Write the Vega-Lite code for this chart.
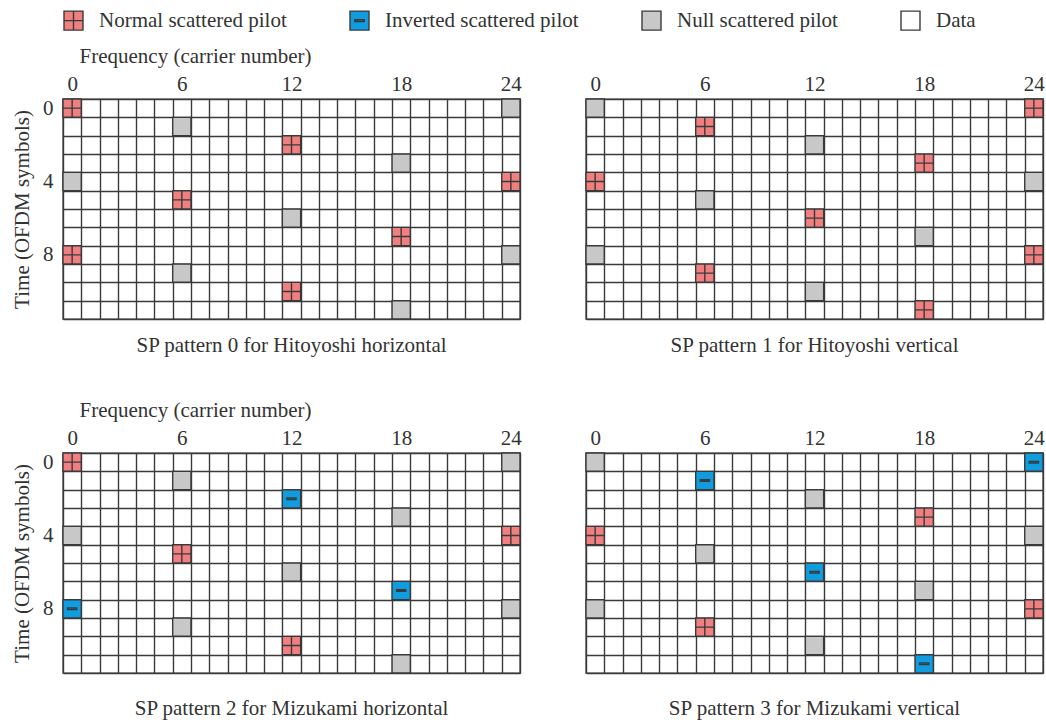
{
  "$schema": "https://vega.github.io/schema/vega-lite/v6.json",
  "background": "white",
  "padding": {"left": 10, "top": 10, "right": 2, "bottom": 0},
  "datasets": {
    "p0": [
      {"c": 0, "r": 0, "t": "Normal scattered pilot"},
      {"c": 12, "r": 2, "t": "Normal scattered pilot"},
      {"c": 24, "r": 4, "t": "Normal scattered pilot"},
      {"c": 6, "r": 5, "t": "Normal scattered pilot"},
      {"c": 18, "r": 7, "t": "Normal scattered pilot"},
      {"c": 0, "r": 8, "t": "Normal scattered pilot"},
      {"c": 12, "r": 10, "t": "Normal scattered pilot"},
      {"c": 24, "r": 0, "t": "Null scattered pilot"},
      {"c": 6, "r": 1, "t": "Null scattered pilot"},
      {"c": 18, "r": 3, "t": "Null scattered pilot"},
      {"c": 0, "r": 4, "t": "Null scattered pilot"},
      {"c": 12, "r": 6, "t": "Null scattered pilot"},
      {"c": 24, "r": 8, "t": "Null scattered pilot"},
      {"c": 6, "r": 9, "t": "Null scattered pilot"},
      {"c": 18, "r": 11, "t": "Null scattered pilot"}
    ],
    "p1": [
      {"c": 24, "r": 0, "t": "Normal scattered pilot"},
      {"c": 6, "r": 1, "t": "Normal scattered pilot"},
      {"c": 18, "r": 3, "t": "Normal scattered pilot"},
      {"c": 0, "r": 4, "t": "Normal scattered pilot"},
      {"c": 12, "r": 6, "t": "Normal scattered pilot"},
      {"c": 24, "r": 8, "t": "Normal scattered pilot"},
      {"c": 6, "r": 9, "t": "Normal scattered pilot"},
      {"c": 18, "r": 11, "t": "Normal scattered pilot"},
      {"c": 0, "r": 0, "t": "Null scattered pilot"},
      {"c": 12, "r": 2, "t": "Null scattered pilot"},
      {"c": 24, "r": 4, "t": "Null scattered pilot"},
      {"c": 6, "r": 5, "t": "Null scattered pilot"},
      {"c": 18, "r": 7, "t": "Null scattered pilot"},
      {"c": 0, "r": 8, "t": "Null scattered pilot"},
      {"c": 12, "r": 10, "t": "Null scattered pilot"}
    ],
    "p2": [
      {"c": 0, "r": 0, "t": "Normal scattered pilot"},
      {"c": 24, "r": 4, "t": "Normal scattered pilot"},
      {"c": 6, "r": 5, "t": "Normal scattered pilot"},
      {"c": 12, "r": 10, "t": "Normal scattered pilot"},
      {"c": 12, "r": 2, "t": "Inverted scattered pilot"},
      {"c": 18, "r": 7, "t": "Inverted scattered pilot"},
      {"c": 0, "r": 8, "t": "Inverted scattered pilot"},
      {"c": 24, "r": 0, "t": "Null scattered pilot"},
      {"c": 6, "r": 1, "t": "Null scattered pilot"},
      {"c": 18, "r": 3, "t": "Null scattered pilot"},
      {"c": 0, "r": 4, "t": "Null scattered pilot"},
      {"c": 12, "r": 6, "t": "Null scattered pilot"},
      {"c": 24, "r": 8, "t": "Null scattered pilot"},
      {"c": 6, "r": 9, "t": "Null scattered pilot"},
      {"c": 18, "r": 11, "t": "Null scattered pilot"}
    ],
    "p3": [
      {"c": 18, "r": 3, "t": "Normal scattered pilot"},
      {"c": 0, "r": 4, "t": "Normal scattered pilot"},
      {"c": 24, "r": 8, "t": "Normal scattered pilot"},
      {"c": 6, "r": 9, "t": "Normal scattered pilot"},
      {"c": 24, "r": 0, "t": "Inverted scattered pilot"},
      {"c": 6, "r": 1, "t": "Inverted scattered pilot"},
      {"c": 12, "r": 6, "t": "Inverted scattered pilot"},
      {"c": 18, "r": 11, "t": "Inverted scattered pilot"},
      {"c": 0, "r": 0, "t": "Null scattered pilot"},
      {"c": 12, "r": 2, "t": "Null scattered pilot"},
      {"c": 24, "r": 4, "t": "Null scattered pilot"},
      {"c": 6, "r": 5, "t": "Null scattered pilot"},
      {"c": 18, "r": 7, "t": "Null scattered pilot"},
      {"c": 0, "r": 8, "t": "Null scattered pilot"},
      {"c": 12, "r": 10, "t": "Null scattered pilot"}
    ]
  },
  "columns": 2,
  "spacing": {"row": 41, "column": 58},
  "concat": [
    {
      "width": 457, "height": 220,
      "data": {"name": "p0"},
      "title": {"text": "SP pattern 0 for Hitoyoshi horizontal", "offset": 13.5},
      "mark": {"type": "point", "filled": true, "size": 334, "opacity": 1, "stroke": "#3a3a3a", "strokeWidth": 1.4},
      "encoding": {
        "x": {"field": "c", "type": "ordinal",
          "scale": {"type": "band", "domain": [0,1,2,3,4,5,6,7,8,9,10,11,12,13,14,15,16,17,18,19,20,21,22,23,24], "paddingInner": 0, "paddingOuter": 0},
          "axis": {"orient": "top", "title": "Frequency (carrier number)", "labelExpr": "datum.value % 6 == 0 ? datum.label : ''", "titleX": 16, "titleAlign": "left"}},
        "y": {"field": "r", "type": "ordinal",
          "scale": {"type": "band", "domain": [0,1,2,3,4,5,6,7,8,9,10,11], "paddingInner": 0, "paddingOuter": 0},
          "axis": {"title": "Time (OFDM symbols)", "labelExpr": "datum.value % 4 == 0 ? datum.label : ''"}},
        "fill": {"field": "t", "type": "nominal",
          "scale": {"domain": ["Normal scattered pilot", "Inverted scattered pilot", "Null scattered pilot", "Data"], "range": ["#f07f80", "#109de0", "#c8c8c8", "#ffffff"]},
          "legend": {"title": null}},
        "shape": {"field": "t", "type": "nominal",
          "scale": {"domain": ["Normal scattered pilot", "Inverted scattered pilot", "Null scattered pilot", "Data"], "range": ["M-1,-1H1V1H-1Z M0,-1V1 M-1,0H1", "M-1,-1H1V1H-1Z M-0.5,-0.09H0.5V0.09H-0.5Z", "M-1,-1H1V1H-1Z", "M-1,-1H1V1H-1Z"]},
          "legend": {"title": null}}
      }
    },
    {
      "width": 457, "height": 220,
      "data": {"name": "p1"},
      "title": {"text": "SP pattern 1 for Hitoyoshi vertical", "offset": 13.5},
      "mark": {"type": "point", "filled": true, "size": 334, "opacity": 1, "stroke": "#3a3a3a", "strokeWidth": 1.4},
      "encoding": {
        "x": {"field": "c", "type": "ordinal",
          "scale": {"type": "band", "domain": [0,1,2,3,4,5,6,7,8,9,10,11,12,13,14,15,16,17,18,19,20,21,22,23,24], "paddingInner": 0, "paddingOuter": 0},
          "axis": {"orient": "top", "title": "Frequency (carrier number)", "titleOpacity": 0, "labelExpr": "datum.value % 6 == 0 ? datum.label : ''", "titleX": 16, "titleAlign": "left"}},
        "y": {"field": "r", "type": "ordinal",
          "scale": {"type": "band", "domain": [0,1,2,3,4,5,6,7,8,9,10,11], "paddingInner": 0, "paddingOuter": 0},
          "axis": {"title": null, "labels": false}},
        "fill": {"field": "t", "type": "nominal",
          "scale": {"domain": ["Normal scattered pilot", "Inverted scattered pilot", "Null scattered pilot", "Data"], "range": ["#f07f80", "#109de0", "#c8c8c8", "#ffffff"]},
          "legend": {"title": null}},
        "shape": {"field": "t", "type": "nominal",
          "scale": {"domain": ["Normal scattered pilot", "Inverted scattered pilot", "Null scattered pilot", "Data"], "range": ["M-1,-1H1V1H-1Z M0,-1V1 M-1,0H1", "M-1,-1H1V1H-1Z M-0.5,-0.09H0.5V0.09H-0.5Z", "M-1,-1H1V1H-1Z", "M-1,-1H1V1H-1Z"]},
          "legend": {"title": null}}
      }
    },
    {
      "width": 457, "height": 220,
      "data": {"name": "p2"},
      "title": {"text": "SP pattern 2 for Mizukami horizontal", "offset": 22},
      "mark": {"type": "point", "filled": true, "size": 334, "opacity": 1, "stroke": "#3a3a3a", "strokeWidth": 1.4},
      "encoding": {
        "x": {"field": "c", "type": "ordinal",
          "scale": {"type": "band", "domain": [0,1,2,3,4,5,6,7,8,9,10,11,12,13,14,15,16,17,18,19,20,21,22,23,24], "paddingInner": 0, "paddingOuter": 0},
          "axis": {"orient": "top", "title": "Frequency (carrier number)", "labelExpr": "datum.value % 6 == 0 ? datum.label : ''", "titleX": 16, "titleAlign": "left"}},
        "y": {"field": "r", "type": "ordinal",
          "scale": {"type": "band", "domain": [0,1,2,3,4,5,6,7,8,9,10,11], "paddingInner": 0, "paddingOuter": 0},
          "axis": {"title": "Time (OFDM symbols)", "labelExpr": "datum.value % 4 == 0 ? datum.label : ''"}},
        "fill": {"field": "t", "type": "nominal",
          "scale": {"domain": ["Normal scattered pilot", "Inverted scattered pilot", "Null scattered pilot", "Data"], "range": ["#f07f80", "#109de0", "#c8c8c8", "#ffffff"]},
          "legend": {"title": null}},
        "shape": {"field": "t", "type": "nominal",
          "scale": {"domain": ["Normal scattered pilot", "Inverted scattered pilot", "Null scattered pilot", "Data"], "range": ["M-1,-1H1V1H-1Z M0,-1V1 M-1,0H1", "M-1,-1H1V1H-1Z M-0.5,-0.09H0.5V0.09H-0.5Z", "M-1,-1H1V1H-1Z", "M-1,-1H1V1H-1Z"]},
          "legend": {"title": null}}
      }
    },
    {
      "width": 457, "height": 220,
      "data": {"name": "p3"},
      "title": {"text": "SP pattern 3 for Mizukami vertical", "offset": 22},
      "mark": {"type": "point", "filled": true, "size": 334, "opacity": 1, "stroke": "#3a3a3a", "strokeWidth": 1.4},
      "encoding": {
        "x": {"field": "c", "type": "ordinal",
          "scale": {"type": "band", "domain": [0,1,2,3,4,5,6,7,8,9,10,11,12,13,14,15,16,17,18,19,20,21,22,23,24], "paddingInner": 0, "paddingOuter": 0},
          "axis": {"orient": "top", "title": "Frequency (carrier number)", "titleOpacity": 0, "labelExpr": "datum.value % 6 == 0 ? datum.label : ''", "titleX": 16, "titleAlign": "left"}},
        "y": {"field": "r", "type": "ordinal",
          "scale": {"type": "band", "domain": [0,1,2,3,4,5,6,7,8,9,10,11], "paddingInner": 0, "paddingOuter": 0},
          "axis": {"title": null, "labels": false}},
        "fill": {"field": "t", "type": "nominal",
          "scale": {"domain": ["Normal scattered pilot", "Inverted scattered pilot", "Null scattered pilot", "Data"], "range": ["#f07f80", "#109de0", "#c8c8c8", "#ffffff"]},
          "legend": {"title": null}},
        "shape": {"field": "t", "type": "nominal",
          "scale": {"domain": ["Normal scattered pilot", "Inverted scattered pilot", "Null scattered pilot", "Data"], "range": ["M-1,-1H1V1H-1Z M0,-1V1 M-1,0H1", "M-1,-1H1V1H-1Z M-0.5,-0.09H0.5V0.09H-0.5Z", "M-1,-1H1V1H-1Z", "M-1,-1H1V1H-1Z"]},
          "legend": {"title": null}}
      }
    }
  ],
  "config": {
    "font": "Liberation Serif",
    "view": {"stroke": "#3a3a3a", "strokeWidth": 1.4},
    "axis": {
      "labelFont": "Liberation Serif", "labelFontSize": 21, "labelColor": "#333333",
      "titleFont": "Liberation Serif", "titleFontSize": 21, "titleFontWeight": "normal", "titleColor": "#333333",
      "ticks": false, "domain": false, "grid": true, "gridColor": "#3a3a3a", "gridWidth": 1.4, "gridOpacity": 1,
      "tickBand": "extent", "labelOverlap": false, "labelAngle": 0
    },
    "axisX": {"labelPadding": 4.5, "titlePadding": 7},
    "axisY": {"labelPadding": 10, "titlePadding": 10},
    "title": {"orient": "bottom", "font": "Liberation Serif", "fontSize": 21, "fontWeight": "normal", "color": "#333333", "anchor": "middle"},
    "legend": {
      "orient": "top", "direction": "horizontal",
      "labelFont": "Liberation Serif", "labelFontSize": 21, "labelColor": "#333333", "labelLimit": 400,
      "labelOffset": 15, "columnPadding": 60, "symbolSize": 361,
      "symbolStrokeColor": "#3a3a3a", "symbolStrokeWidth": 1.4, "symbolOpacity": 1, "offset": 11,
      "symbolFillColor": "#ffffff"
    }
  },
  "resolve": {"legend": {"fill": "shared", "shape": "shared"}}
}
